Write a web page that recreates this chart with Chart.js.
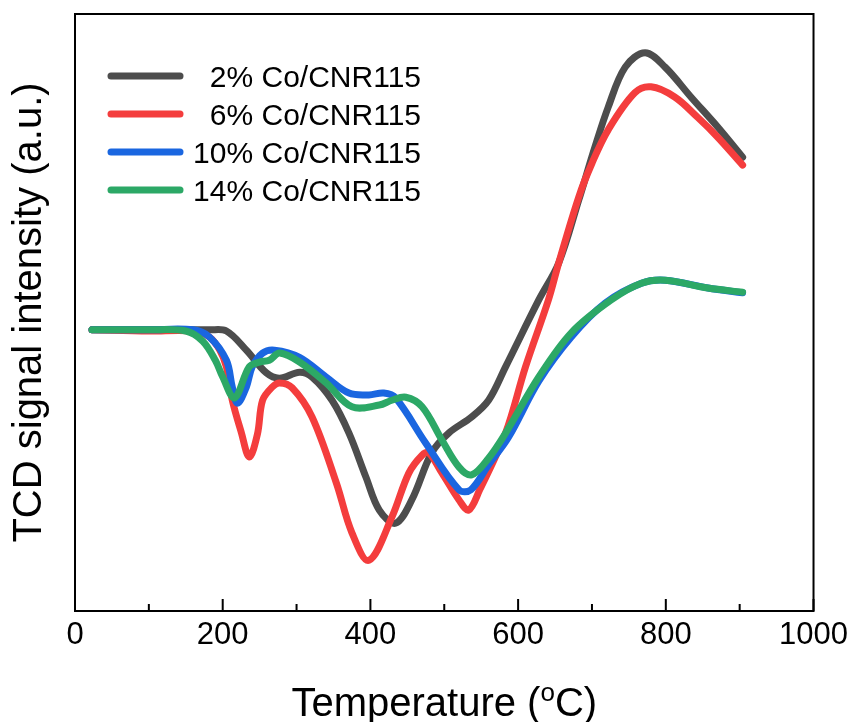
<!DOCTYPE html>
<html>
<head>
<meta charset="utf-8">
<title>TCD signal</title>
<script src="https://cdn.jsdelivr.net/npm/chart.js@4/dist/chart.umd.min.js"></script>
<style>
  html, body { margin: 0; padding: 0; background: #fff; }
  #wrap { width: 854px; height: 722px; }
</style>
</head>
<body>
<div id="wrap"><canvas id="tcd"></canvas></div>
<script>
'use strict';

// Series labels and colours.
var seriesLabels = ['2% Co/CNR115', '6% Co/CNR115', '10% Co/CNR115', '14% Co/CNR115'];
var seriesColors = ['#4d4d4d', '#f43d3d', '#1a66e0', '#2ca866'];

// Temperature (C) and signal (a.u.).
var tempBlack = [23, 100, 160, 182, 205, 232, 259, 277, 304, 321, 348, 371, 394, 412, 434, 456, 483, 506, 537, 560, 583, 628, 655, 682, 704, 722, 745, 772, 799, 834, 870, 904];
var sigBlack = [47.1, 47.1, 47.1, 47.1, 46.9, 43.7, 39.9, 39.0, 40.0, 39.2, 35.3, 29.8, 22.4, 16.9, 14.7, 18.6, 26.5, 29.8, 32.5, 35.3, 40.9, 52.1, 58.3, 68.8, 77.7, 84.4, 91.1, 93.5, 91.1, 86.1, 81.1, 76.0];

var tempRed = [23, 100, 160, 182, 196, 205, 213, 225, 236, 247, 254, 267, 277, 294, 321, 354, 375, 398, 429, 452, 470, 479, 497, 520, 533, 548, 583, 610, 641, 655, 682, 700, 722, 758, 780, 812, 843, 870, 904];
var sigRed = [47.1, 46.9, 46.9, 45.9, 43.7, 40.9, 35.3, 30.0, 25.8, 29.6, 35.3, 37.5, 38.2, 37.4, 32.5, 21.4, 13.1, 8.5, 15.7, 23.1, 26.1, 26.5, 23.1, 18.6, 16.9, 20.3, 29.8, 40.9, 52.1, 58.3, 69.3, 75.0, 80.6, 86.8, 87.8, 86.1, 82.7, 79.4, 74.7];

var tempBlue = [23, 100, 160, 182, 205, 213, 220, 232, 240, 254, 270, 304, 340, 371, 398, 418, 434, 475, 520, 536, 560, 587, 628, 672, 718, 767, 799, 857, 904];
var sigBlue = [47.1, 47.1, 47.1, 45.9, 42.0, 37.5, 34.8, 37.5, 40.9, 43.2, 43.7, 42.5, 39.2, 36.5, 36.2, 36.5, 35.7, 28.1, 20.3, 20.3, 24.5, 29.1, 38.5, 45.9, 51.6, 54.9, 55.4, 54.1, 53.3];

var tempGreen = [23, 100, 150, 173, 190, 200, 216, 236, 250, 263, 277, 304, 340, 375, 412, 429, 448, 470, 497, 520, 537, 560, 583, 628, 672, 726, 767, 799, 857, 904];
var sigGreen = [47.1, 47.1, 46.9, 45.2, 42.0, 39.2, 35.7, 40.9, 41.7, 42.0, 43.2, 41.7, 38.2, 34.2, 34.5, 35.3, 35.8, 34.2, 28.6, 24.1, 22.8, 25.6, 29.8, 39.2, 46.6, 52.1, 54.9, 55.4, 54.1, 53.4];

// Axis ticks.
var majorTicks = [0, 200, 400, 600, 800, 1000];
var minorTicks = [100, 300, 500, 700, 900];

var FONT = '"Liberation Sans", Arial, sans-serif';

function toPoints(xs, ys) {
  return xs.map(function (x, i) { return {x: x, y: ys[i]}; });
}

function makeDataset(i, xs, ys, order) {
  return {
    label: seriesLabels[i],
    data: toPoints(xs, ys),
    borderColor: seriesColors[i],
    backgroundColor: seriesColors[i],
    borderWidth: 7,
    borderCapStyle: 'round',
    borderJoinStyle: 'round',
    pointRadius: 0,
    tension: 0.35,
    fill: false,
    order: order
  };
}

// Frame, inward ticks, titles and legend.
var decorations = {
  id: 'decorations',
  afterDatasetsDraw: function (chart) {
    var ctx = chart.ctx;
    var area = chart.chartArea;
    var xs = chart.scales.x;

    ctx.save();
    ctx.strokeStyle = '#000';
    ctx.lineWidth = 2;
    ctx.strokeRect(area.left, area.top, area.right - area.left, area.bottom - area.top);

    // Ticks point into the plot.
    ctx.beginPath();
    majorTicks.forEach(function (v) {
      var px = xs.getPixelForValue(v);
      ctx.moveTo(px, area.bottom);
      ctx.lineTo(px, area.bottom - 12);
    });
    minorTicks.forEach(function (v) {
      var px = xs.getPixelForValue(v);
      ctx.moveTo(px, area.bottom);
      ctx.lineTo(px, area.bottom - 7);
    });
    ctx.stroke();

    // X title with a superscript o.
    ctx.fillStyle = '#000';
    ctx.textBaseline = 'alphabetic';
    ctx.textAlign = 'left';
    var big = '40px ' + FONT;
    var small = '26px ' + FONT;
    ctx.font = big;
    var w1 = ctx.measureText('Temperature (').width;
    var w3 = ctx.measureText('C)').width;
    ctx.font = small;
    var w2 = ctx.measureText('o').width;
    var cx = (area.left + area.right) / 2;
    var x0 = cx - (w1 + w2 + w3) / 2;
    var base = 716;
    ctx.font = big;
    ctx.fillText('Temperature (', x0, base);
    ctx.font = small;
    ctx.fillText('o', x0 + w1, base - 15);
    ctx.font = big;
    ctx.fillText('C)', x0 + w1 + w2, base);

    // Y title.
    ctx.save();
    ctx.translate(41, (area.top + area.bottom) / 2);
    ctx.rotate(-Math.PI / 2);
    ctx.textAlign = 'center';
    ctx.font = big;
    ctx.fillText('TCD signal intensity (a.u.)', 0, 0);
    ctx.restore();

    // Legend.
    ctx.font = '30px ' + FONT;
    ctx.textAlign = 'right';
    chart.data.datasets.forEach(function (ds, i) {
      var y = 76 + i * 38;
      ctx.beginPath();
      ctx.lineCap = 'round';
      ctx.lineWidth = 7;
      ctx.strokeStyle = ds.borderColor;
      ctx.moveTo(111, y);
      ctx.lineTo(180, y);
      ctx.stroke();
      ctx.fillText(ds.label, 421, y + 11);
    });
    ctx.restore();
  }
};

new Chart(document.getElementById('tcd'), {
  type: 'line',
  data: {
    datasets: [
      makeDataset(0, tempBlack, sigBlack, 3),
      makeDataset(1, tempRed, sigRed, 2),
      makeDataset(2, tempBlue, sigBlue, 1),
      makeDataset(3, tempGreen, sigGreen, 0)
    ]
  },
  options: {
    responsive: true,
    maintainAspectRatio: false,
    animation: false,
    layout: {
      padding: {left: 75, right: 38, top: 14, bottom: 0}
    },
    plugins: {
      legend: {display: false},
      tooltip: {enabled: false}
    },
    scales: {
      x: {
        type: 'linear',
        min: 0,
        max: 1000,
        grid: {display: false, drawTicks: false},
        border: {display: false},
        ticks: {
          stepSize: 200,
          padding: 6,
          maxRotation: 0,
          color: '#000',
          font: {family: FONT, size: 31},
          callback: function (value) {
            return String(value);
          }
        },
        afterFit: function (scale) {
          scale.height = 111;
        }
      },
      y: {
        display: false,
        min: 0,
        max: 100
      }
    }
  },
  plugins: [decorations]
});
</script>
</body>
</html>
